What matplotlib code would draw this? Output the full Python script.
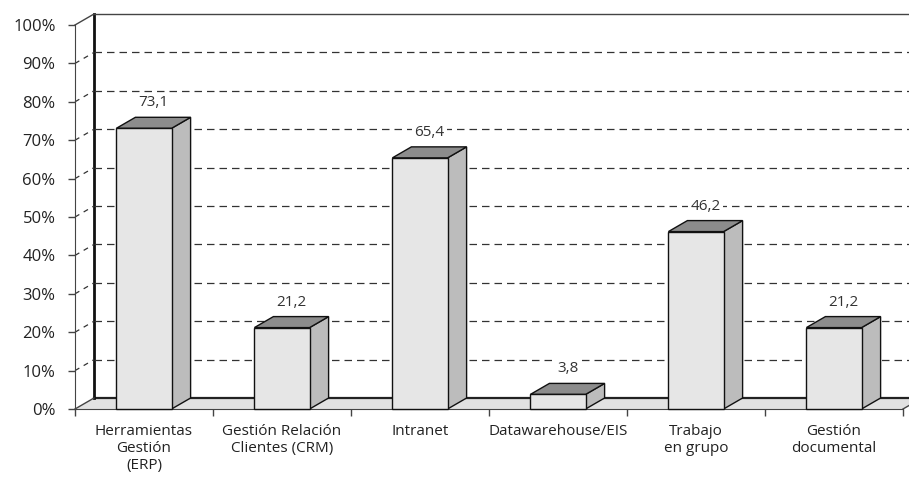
import numpy as np
import matplotlib.pyplot as plt
from matplotlib.patches import Polygon

plt.rcParams['font.family'] = ['Open Sans', 'DejaVu Sans']

categories = ["Herramientas\nGestión\n(ERP)", "Gestión Relación\nClientes (CRM)",
              "Intranet", "Datawarehouse/EIS", "Trabajo\nen grupo",
              "Gestión\ndocumental"]
values = [73.1, 21.2, 65.4, 3.8, 46.2, 21.2]
yticks = [0, 10, 20, 30, 40, 50, 60, 70, 80, 90, 100]

# depth of the pseudo-3D box, in data units
DX = 19 / 138
DY = 11 / 3.84
BAR_W = 0.4

FRONT = "#e6e6e6"
TOP = "#8c8c8c"
SIDE = "#bcbcbc"
AXIS = "#444444"

fig = plt.figure(figsize=(9.09, 4.79), dpi=100)
ax = fig.add_axes([75 / 909, 70 / 479, 828 / 909, 384 / 479])
n = len(categories)
ax.set_xlim(0, n)
ax.set_ylim(0, 100)
for s in ("top", "right"):
    ax.spines[s].set_visible(False)
ax.spines["left"].set_color(AXIS)
ax.spines["bottom"].set_color(AXIS)
ax.patch.set_visible(False)

# floor
ax.add_patch(Polygon([(0, 0), (n, 0), (n + DX, DY), (DX, DY)], closed=True,
                     facecolor="#e2e2e2", edgecolor="none", zorder=1, clip_on=False))
ax.plot([DX, n + DX], [DY, DY], color="#222222", lw=1.6, zorder=2, clip_on=False)
ax.plot([n, n + DX], [0, DY], color=AXIS, lw=1, zorder=2, clip_on=False)

# back wall and side wall
ax.plot([DX, DX], [DY, 100 + DY], color="#111111", lw=2, zorder=2, clip_on=False)
ax.plot([DX, n + DX], [100 + DY, 100 + DY], color=AXIS, lw=1, zorder=2, clip_on=False)
ax.plot([0, DX], [100, 100 + DY], color=AXIS, lw=1, zorder=2, clip_on=False)
ax.plot([0, DX], [0, DY], color=AXIS, lw=1, zorder=2, clip_on=False)
for v in yticks[1:-1]:
    ax.plot([DX, n + DX], [v + DY, v + DY], color="#333333", lw=0.9,
            ls=(0, (6, 4)), zorder=2, clip_on=False)
    ax.plot([0, DX], [v, v + DY], color="#333333", lw=0.9,
            ls=(0, (4, 4)), zorder=2, clip_on=False)

# bars
for i, v in enumerate(values):
    c = i + 0.5
    x0, x1 = c - BAR_W / 2, c + BAR_W / 2
    side = [(x1, 0), (x1 + DX, DY), (x1 + DX, v + DY), (x1, v)]
    top = [(x0, v), (x1, v), (x1 + DX, v + DY), (x0 + DX, v + DY)]
    front = [(x0, 0), (x1, 0), (x1, v), (x0, v)]
    for pts, col in ((side, SIDE), (top, TOP), (front, FRONT)):
        ax.add_patch(Polygon(pts, closed=True, facecolor=col, edgecolor="#111111",
                             lw=1, zorder=3, clip_on=False))
    ax.annotate(f"{v:.1f}".replace(".", ","), (c + DX / 2, v + DY),
                xytext=(0, 5), textcoords="offset points", ha="center",
                va="bottom", fontsize=11, color="#333333", zorder=4,
                bbox=dict(boxstyle="square,pad=0.15", fc="white", ec="none"))

ax.set_yticks(yticks)
ax.set_yticklabels([f"{v}%" for v in yticks], fontsize=12, color="#222222")
ax.tick_params(axis="y", direction="out", length=5, width=1, color=AXIS, pad=9)

ax.set_xticks(np.arange(n + 1))
ax.set_xticklabels([])
ax.tick_params(axis="x", which="major", direction="out", length=5, width=1, color=AXIS)
ax.set_xticks(np.arange(n) + 0.5, minor=True)
ax.set_xticklabels(categories, minor=True, fontsize=11, color="#222222",
                   linespacing=1.15)
ax.tick_params(axis="x", which="minor", length=0, pad=11)

fig.savefig("out.png", dpi=100)
